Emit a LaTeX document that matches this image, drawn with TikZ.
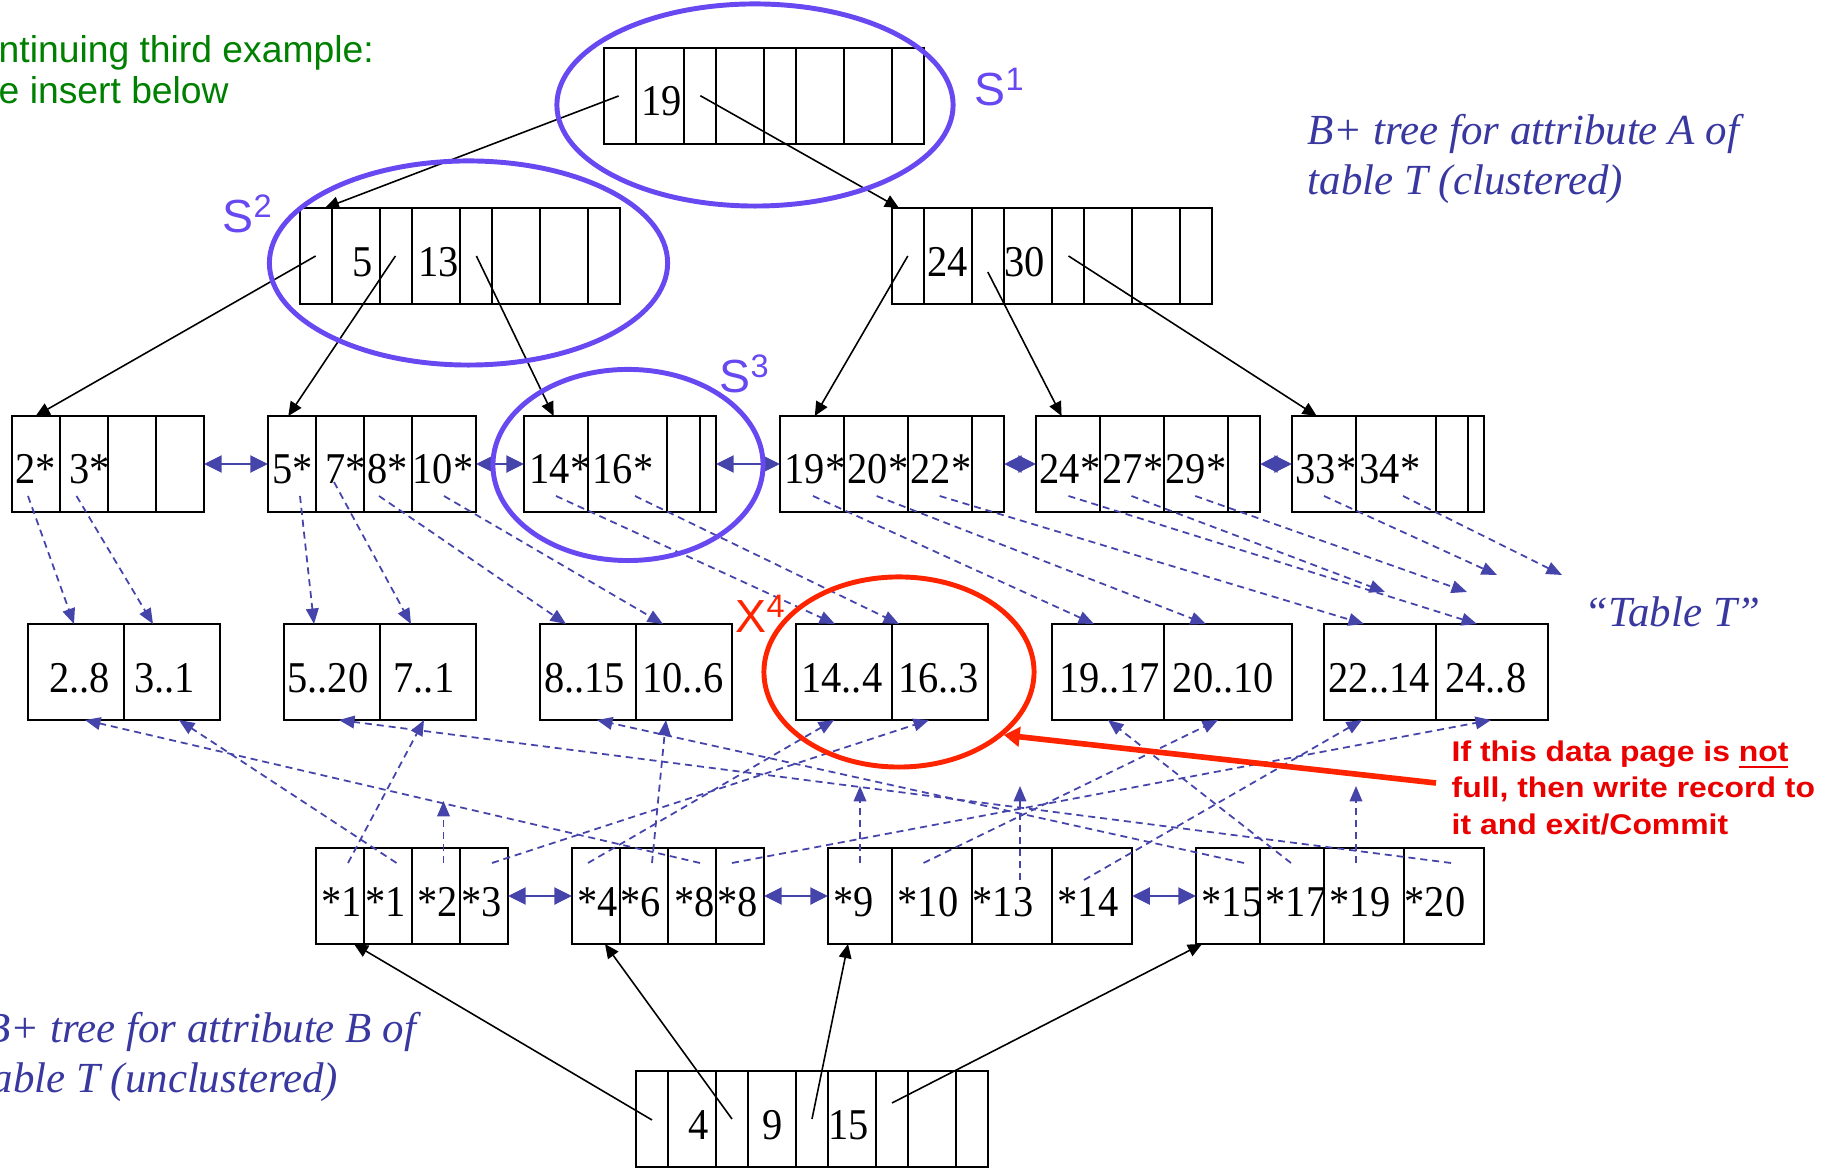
\documentclass[tikz,border=0pt]{standalone}
\usepackage{fontspec}
\setmainfont{Liberation Serif}
\newfontfamily\numf[FakeStretch=0.92]{Liberation Serif}
\newfontfamily\sansf{Liberation Sans}
\newfontfamily\redf[FakeStretch=1.12]{Liberation Sans}
\usetikzlibrary{shapes.geometric,arrows.meta,calc}
\definecolor{bl}{RGB}{68,68,170}
\definecolor{pu}{RGB}{104,72,240}
\definecolor{rc}{RGB}{255,36,0}
\definecolor{rt}{RGB}{235,0,0}
\definecolor{gr}{RGB}{0,128,0}
\definecolor{itb}{RGB}{56,56,160}
\tikzset{
 boxst/.style={draw=black, line width=0.6pt, rectangle, inner sep=0pt, outer sep=0pt, minimum height=9.6mm, anchor=north west},
 divst/.style={line width=0.6pt},
 numst/.style={font=\numf\fontsize{12.5}{14}\selectfont, inner sep=0pt, anchor=base west},
 ptr/.style={line width=0.45pt, -{Triangle[length=4pt,width=3.6pt]}},
 sib/.style={draw=bl, line width=0.7pt, {Triangle[length=5pt,width=4.8pt]}-{Triangle[length=5pt,width=4.8pt]}},
 dsh/.style={draw=bl, line width=0.5pt, dash pattern=on 2pt off 1.4pt, -{Triangle[length=4.4pt,width=3.6pt]}},
 ell/.style={draw=pu, line width=1.4pt, ellipse, inner sep=0pt},
 slab/.style={font=\sansf\fontsize{13.2}{15}\selectfont, text=pu, inner sep=0pt, anchor=base west},
 itx/.style={font=\fontsize{12.2}{14}\selectfont\itshape, text=itb, inner sep=0pt, anchor=base west},
 grn/.style={font=\sansf\fontsize{10.6}{12}\selectfont, text=gr, inner sep=0pt, anchor=base west},
 rtx/.style={font=\redf\bfseries\fontsize{8.1}{10}\selectfont, text=rt, inner sep=0pt, anchor=base west},
}
\newcommand\mkbox[5]{%
  \node[boxst, minimum width=#4*0.1mm] (#1) at (#2,#3) {};
  \foreach \d in {#5}{\draw[divst] ($(#1.north west)+(\d,0)$) -- ($(#1.south west)+(\d,0)$);}
}
\newcommand\tx[4]{\node[numst] (#1) at (#2,#3) {#4};}
\begin{document}
\begin{tikzpicture}[x=0.01cm,y=-0.01cm]
\fill[white] (0,0) rectangle (1823,1168);
\useasboundingbox (0,0) rectangle (1823,1168);
\clip (0,0) rectangle (1823,1168);

% ---------- boxes
\mkbox{R}{604}{48}{320}{32,80,112,160,192,240,288}
\mkbox{IL}{300}{208}{320}{32,80,112,160,192,240,288}
\mkbox{IR}{892}{208}{320}{32,80,112,160,192,240,288}
\mkbox{L1}{12}{416}{192}{48,96,144}
\mkbox{L2}{268}{416}{208}{48,96,144}
\mkbox{L3}{524}{416}{192}{64,143,176}
\mkbox{L4}{780}{416}{224}{64,128,192}
\mkbox{L5}{1036}{416}{224}{64,128,192}
\mkbox{L6}{1292}{416}{192}{64,144,176}
\mkbox{D1}{28}{624}{192}{96}
\mkbox{D2}{284}{624}{192}{96}
\mkbox{D3}{540}{624}{192}{96}
\mkbox{D4}{796}{624}{192}{96}
\mkbox{D5}{1052}{624}{240}{112}
\mkbox{D6}{1324}{624}{224}{112}
\mkbox{B1}{316}{848}{192}{48,96,144}
\mkbox{B2}{572}{848}{192}{48,96,144}
\mkbox{B3}{828}{848}{304}{64,144,224}
\mkbox{B4}{1196}{848}{288}{64,128,208}
\mkbox{BR}{636}{1071}{352}{32,80,112,160,192,240,272,320}

% ---------- texts in boxes
\tx{r1}{641}{116}{19}
\tx{il1}{352}{276.5}{5}
\tx{il2}{417.5}{276.5}{13}
\tx{ir1}{926.5}{276.5}{24}
\tx{ir2}{1004}{276.5}{30}
\tx{l11}{15}{484}{2*}
\tx{l12}{69}{484}{3*}
\tx{l21}{272}{484}{5*}
\tx{l22}{325}{484}{7*}
\tx{l23}{367}{484}{8*}
\tx{l24}{412}{484}{10*}
\tx{l31}{529}{484}{14*}
\tx{l32}{592}{484}{16*}
\tx{l41}{784}{484}{19*}
\tx{l42}{847}{484}{20*}
\tx{l43}{910}{484}{22*}
\tx{l51}{1039}{484}{24*}
\tx{l52}{1102}{484}{27*}
\tx{l53}{1165}{484}{29*}
\tx{l61}{1295}{484}{33*}
\tx{l62}{1359}{484}{34*}
\tx{d11}{48.5}{692.5}{2..8}
\tx{d12}{133.7}{692.5}{3..1}
\tx{d21}{286.7}{692.5}{5..20}
\tx{d22}{392.9}{692.5}{7..1}
\tx{d31}{543.4}{692.5}{8..15}
\tx{d32}{641.8}{692.5}{10..6}
\tx{d41}{800.7}{692.5}{14..4}
\tx{d42}{897.6}{692.5}{16..3}
\tx{d51}{1058.3}{692.5}{19..17}
\tx{d52}{1172.2}{692.5}{20..10}
\tx{d61}{1328}{692.5}{22..14}
\tx{d62}{1444.7}{692.5}{24..8}
\tx{b11}{321}{916.5}{*1}
\tx{b12}{364.5}{916.5}{*1}
\tx{b13}{417}{916.5}{*2}
\tx{b14}{460.5}{916.5}{*3}
\tx{b21}{577}{916.5}{*4}
\tx{b22}{620}{916.5}{*6}
\tx{b23}{674}{916.5}{*8}
\tx{b24}{717}{916.5}{*8}
\tx{b31}{832.7}{916.5}{*9}
\tx{b32}{897}{916.5}{*10}
\tx{b33}{972}{916.5}{*13}
\tx{b34}{1057}{916.5}{*14}
\tx{b41}{1201}{916.5}{*15}
\tx{b42}{1265}{916.5}{*17}
\tx{b43}{1329}{916.5}{*19}
\tx{b44}{1404}{916.5}{*20}
\tx{br1}{687.5}{1139.5}{4}
\tx{br2}{762}{1139.5}{9}
\tx{br3}{828}{1139.5}{15}

% ---------- black tree pointers
\coordinate (pR1) at (618.6,96);
\coordinate (pR2) at (700.3,95.7);
\coordinate (pIL1) at (315.7,256);
\coordinate (pIL2) at (395.4,256);
\coordinate (pIL3) at (476.4,256);
\coordinate (pIR1) at (907.8,256);
\coordinate (pIR2) at (987.8,272);
\coordinate (pIR3) at (1068.5,256);
\coordinate (pBR1) at (652,1120);
\coordinate (pBR2) at (732,1119);
\coordinate (pBR3) at (812,1119);
\coordinate (pBR4) at (892,1103);
\draw[ptr] (pR1) -- ($(IL.north west)+(25,0)$);
\draw[ptr] (pR2) -- ($(IR.north west)+(7,0)$);
\draw[ptr] (pIL1) -- ($(L1.north west)+(23.7,0)$);
\draw[ptr] (pIL2) -- ($(L2.north west)+(20.3,0)$);
\draw[ptr] (pIL3) -- ($(L3.north west)+(29.6,0)$);
\draw[ptr] (pIR1) -- ($(L4.north west)+(34.8,0)$);
\draw[ptr] (pIR2) -- ($(L5.north west)+(25.6,0)$);
\draw[ptr] (pIR3) -- ($(L6.north west)+(24.7,0)$);
\draw[ptr] (pBR1) -- ($(B1.south west)+(38,0)$);
\draw[ptr] (pBR2) -- ($(B2.south west)+(33,0)$);
\draw[ptr] (pBR3) -- ($(B3.south west)+(20,0)$);
\draw[ptr] (pBR4) -- ($(B4.south west)+(6,0)$);

% ---------- sibling links
\draw[sib] (L1.east) -- (L2.west);
\draw[sib] (L2.east) -- (L3.west);
\draw[sib] (L3.east) -- (L4.west);
\draw[sib] (L4.east) -- (L5.west);
\draw[sib] (L5.east) -- (L6.west);
\draw[sib] (B1.east) -- (B2.west);
\draw[sib] (B2.east) -- (B3.west);
\draw[sib] (B3.east) -- (B4.west);

% ---------- clustered leaf entries -> data pages
\coordinate (c2) at (28,496);
\coordinate (c3) at (76.5,496);
\coordinate (c5) at (300,496);
\coordinate (c7) at (334,482);
\coordinate (c8) at (379,496);
\coordinate (c10) at (444,496);
\coordinate (c14) at (556,496);
\coordinate (c16) at (635,496);
\coordinate (c19) at (813,496);
\coordinate (c20) at (876.6,496);
\coordinate (c22) at (939.7,496);
\coordinate (c24) at (1068.5,496);
\coordinate (c27) at (1131.5,496);
\coordinate (c29) at (1195.3,496);
\coordinate (c33) at (1324,496);
\coordinate (c34) at (1403,496);
\coordinate (f27) at (1385,592);
\coordinate (f29) at (1467,592);
\coordinate (f33) at (1497,575);
\coordinate (f34) at (1562,575);
\draw[dsh] (c2) -- ($(D1.north west)+(46,0)$);
\draw[dsh] (c3) -- ($(D1.north west)+(125,0)$);
\draw[dsh] (c5) -- ($(D2.north west)+(30,0)$);
\draw[dsh] (c7) -- ($(D2.north west)+(127,0)$);
\draw[dsh] (c8) -- ($(D3.north west)+(26,0)$);
\draw[dsh] (c10) -- ($(D3.north west)+(123,0)$);
\draw[dsh] (c14) -- ($(D4.north west)+(39,0)$);
\draw[dsh] (c16) -- ($(D4.north west)+(103,0)$);
\draw[dsh] (c19) -- ($(D5.north west)+(42,0)$);
\draw[dsh] (c20) -- ($(D5.north west)+(154,0)$);
\draw[dsh] (c22) -- ($(D6.north west)+(40,0)$);
\draw[dsh] (c24) -- ($(D6.north west)+(153,0)$);
\draw[dsh] (c27) -- (f27);
\draw[dsh] (c29) -- (f29);
\draw[dsh] (c33) -- (f33);
\draw[dsh] (c34) -- (f34);

% ---------- unclustered leaf entries -> data pages
\coordinate (u1a) at (348,863);
\coordinate (u1b) at (396.5,863);
\coordinate (u2) at (443.5,863);
\coordinate (u3) at (492,863);
\coordinate (u4) at (588,863);
\coordinate (u6) at (652,863);
\coordinate (u8a) at (700,863);
\coordinate (u8b) at (732,863);
\coordinate (u9) at (860,863);
\coordinate (u10) at (923.5,863);
\coordinate (u13) at (1020,880);
\coordinate (u14) at (1084,880);
\coordinate (u15) at (1244,863);
\coordinate (u17) at (1291,863);
\coordinate (u19) at (1356,863);
\coordinate (u20) at (1451,863);
\coordinate (g2) at (443.5,801);
\coordinate (g9) at (860,786);
\coordinate (g13) at (1020,786);
\coordinate (g19) at (1356,786);
\draw[dsh] (u1a) -- ($(D2.south west)+(140,0)$);
\draw[dsh] (u1b) -- ($(D1.south west)+(151,0)$);
\draw[dsh] (u2) -- (g2);
\draw[dsh] (u3) -- ($(D4.south west)+(133,0)$);
\draw[dsh] (u4) -- ($(D4.south west)+(38,0)$);
\draw[dsh] (u6) -- ($(D3.south west)+(126,0)$);
\draw[dsh] (u8a) -- ($(D1.south west)+(57,0)$);
\draw[dsh] (u8b) -- ($(D6.south west)+(167,0)$);
\draw[dsh] (u9) -- (g9);
\draw[dsh] (u10) -- ($(D5.south west)+(166,0)$);
\draw[dsh] (u13) -- (g13);
\draw[dsh] (u14) -- ($(D6.south west)+(38,0)$);
\draw[dsh] (u15) -- ($(D3.south west)+(57,0)$);
\draw[dsh] (u17) -- ($(D5.south west)+(56,0)$);
\draw[dsh] (u19) -- (g19);
\draw[dsh] (u20) -- ($(D2.south west)+(55,0)$);

% ---------- ellipses and labels
\node[ell, minimum width=3.96cm, minimum height=2.02cm] (S1e) at (755,105) {};
\node[ell, minimum width=3.98cm, minimum height=2.04cm] (S2e) at (468.5,263) {};
\node[ell, minimum width=2.70cm, minimum height=1.91cm] (S3e) at (628,465) {};
\node[ell, draw=rc, minimum width=2.70cm, minimum height=1.90cm] (X4e) at (899,672) {};
\node[slab] (S1lab) at (974,106) {S\textsuperscript{1}};
\node[slab] (S2lab) at (222,233) {S\textsuperscript{2}};
\node[slab] (S3lab) at (719,393) {S\textsuperscript{3}};
\node[slab, text=rc] (X4lab) at (735,633) {X\textsuperscript{4}};

% ---------- red note
\coordinate (rs) at (1436,783);
\draw[draw=rc, line width=1.6pt, -{Triangle[length=4.5pt,width=5.5pt]}] (rs) -- (X4e.-31.7);
\node[rtx] (n1) at (1451,762) {If this data page is \underline{not}};
\node[rtx] (n2) at (1451,798) {full, then write record to};
\node[rtx] (n3) at (1451,835) {it and exit/Commit};

% ---------- other texts
\node[grn] (g1) at (-2,63) {ntinuing third example:};
\node[grn] (g2t) at (-2,104) {e insert below};
\node[itx] (ta1) at (1307,145) {B+ tree for attribute A of};
\node[itx] (ta2) at (1307,195) {table T (clustered)};
\node[itx] (tt) at (1584,627) {“Table T”};
\node[itx] (tb1) at (-16,1043) {B+ tree for attribute B of};
\node[itx] (tb2) at (-21,1093) {table T (unclustered)};
\end{tikzpicture}
\end{document}
